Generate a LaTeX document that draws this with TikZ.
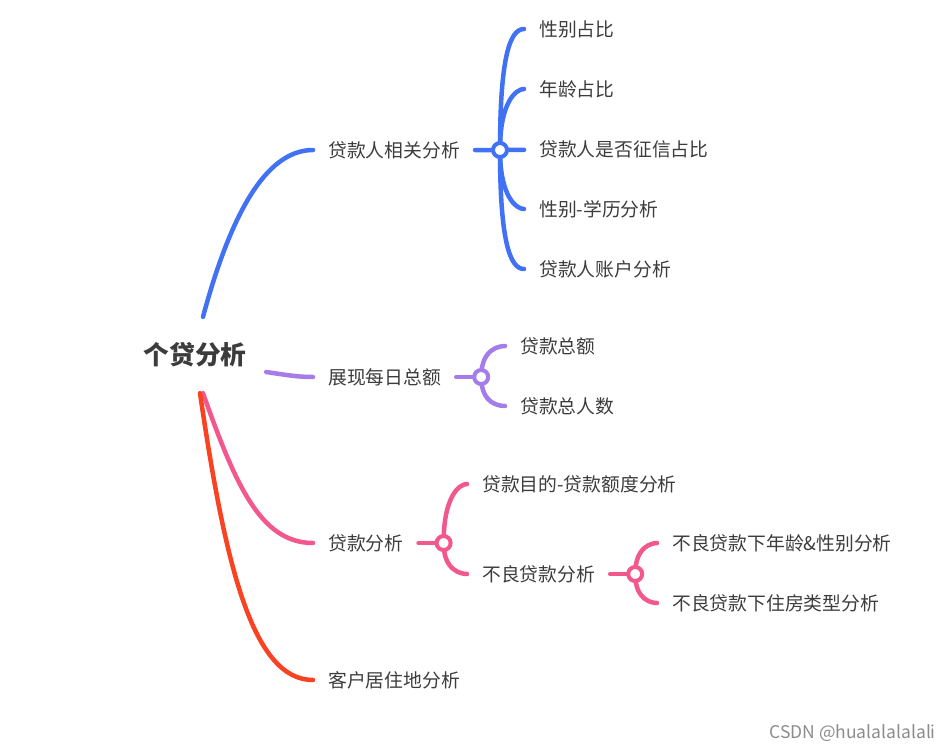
\documentclass[tikz,border=0pt]{standalone}
\usepackage{fontspec}
\setmainfont{Noto Sans CJK SC}
\usetikzlibrary{positioning}
\definecolor{txt}{HTML}{3C3C3C}
\definecolor{bl}{HTML}{4172F5}
\definecolor{pu}{HTML}{A47DEB}
\definecolor{pk}{HTML}{F2588C}
\definecolor{rd}{HTML}{FA4222}
\definecolor{wm}{HTML}{8C8C8C}
\pgfdeclarelayer{bg}
\pgfsetlayers{bg,main}
\tikzset{
  leaf/.style={anchor=west, inner xsep=15pt, inner ysep=0pt, text=txt, font=\fontsize{18.8}{20}\selectfont},
  hub/.style={circle, draw=#1, fill=white, line width=4pt, minimum size=14pt, inner sep=0pt},
  branch/.style={draw=#1, line width=4.5pt, line cap=round},
}

\begin{document}
\begin{tikzpicture}[x=1pt,y=1pt]
\useasboundingbox (0,0) rectangle (951,-750);
\node[minimum width=142pt, minimum height=76pt, inner sep=0pt, text=txt, font=\fontsize{25.7}{28}\selectfont\bfseries] (root) at (195,-355) {个贷分析};
% first level
\node[leaf] (b1) at (313,-150) {贷款人相关分析};
\node[leaf] (b2) at (313,-377) {展现每日总额};
\node[leaf] (b3) at (313,-543) {贷款分析};
\node[leaf] (b4) at (313,-680) {客户居住地分析};
\node[hub=bl, right=16pt of b1] (h1) {};
\node[hub=pu, right=16pt of b2] (h2) {};
\node[hub=pk, right=16pt of b3] (h3) {};
% second level
\foreach \t [count=\i] in {性别占比,年龄占比,贷款人是否征信占比,性别-学历分析,贷款人账户分析}
  \node[leaf] (b1\i) at (524,{-29-60*(\i-1)}) {\t};
\node[leaf] (b21) at (505,-346) {贷款总额};
\node[leaf] (b22) at (505,-406) {贷款总人数};
\node[leaf] (b31) at (467,-484) {贷款目的-贷款额度分析};
\node[leaf] (b32) at (467,-574) {不良贷款分析};
\node[hub=pk, right=16pt of b32] (h4) {};
% third level
\node[leaf] (b41) at (657,-543) {不良贷款下年龄\&性别分析};
\node[leaf] (b42) at (657,-603) {不良贷款下住房类型分析};
\node[anchor=east, inner sep=0pt, text=wm, font=\fontsize{17.5}{18}\selectfont] (mark) at (936,-733) {CSDN @hualalalalali};

\begin{pgfonlayer}{bg}
\draw[branch=bl] ([xshift=8pt]root.north) .. controls +(27,100) and +(-48,0) .. (b1.west);
\draw[branch=pu] ([yshift=-17pt]root.east) .. controls +(20,-3) and +(-15,0) .. (b2.west);
\draw[branch=pk] ([xshift=8pt]root.south) .. controls +(32,-90) and +(-53,0) .. (b3.west);
\draw[branch=rd] ([xshift=5pt]root.south) .. controls +(25,-170) and +(-61,0) .. (b4.west);
% hubs to leaves
\draw[branch=bl] (b1) -- (h1) -- (b13);
\foreach \i/\d in {1/90,2/90,4/-90,5/-90}
  \draw[branch=bl] (h1.center) to[out=\d, in=180, out looseness=1.9, in looseness=0.3] (b1\i.west);
\draw[branch=pu] (b2) -- (h2);
\foreach \i/\d in {1/90,2/-90}
  \draw[branch=pu] (h2.center) to[out=\d, in=180, out looseness=1.9, in looseness=0.3] (b2\i.west);
\draw[branch=pk] (b3) -- (h3);
\foreach \i/\d in {1/90,2/-90}
  \draw[branch=pk] (h3.center) to[out=\d, in=180, out looseness=1.9, in looseness=0.3] (b3\i.west);
\draw[branch=pk] (b32) -- (h4);
\foreach \i/\d in {1/90,2/-90}
  \draw[branch=pk] (h4.center) to[out=\d, in=180, out looseness=1.9, in looseness=0.3] (b4\i.west);
\end{pgfonlayer}
\end{tikzpicture}
\end{document}
